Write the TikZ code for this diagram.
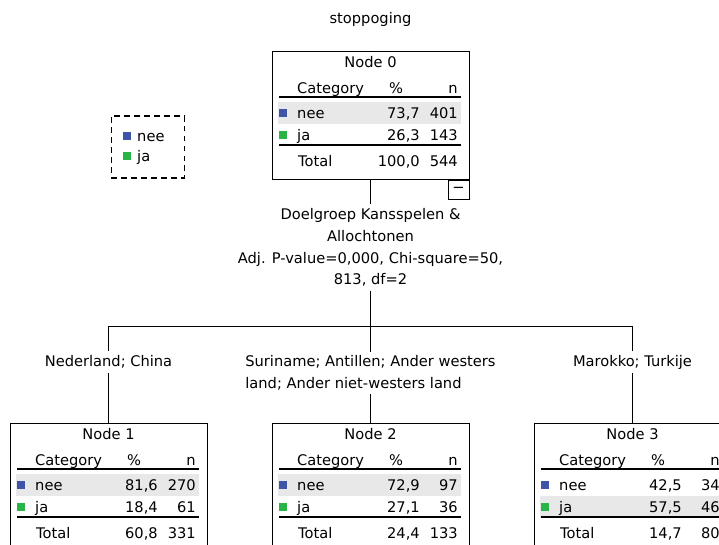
\documentclass[tikz,border=0pt]{standalone}
\usepackage{fontspec}
\setmainfont{DejaVu Sans}
\usepackage{xcolor}
\usetikzlibrary{positioning,calc}

\definecolor{neeblue}{RGB}{62,84,166}
\definecolor{jagreen}{RGB}{40,180,70}
\definecolor{rowgray}{RGB}{232,232,232}

% one table node of the tree, drawn in a shifted scope
% #1 name, #2 title, #3-#8 values, #9 y of shaded row
\newcommand{\treetable}[9]{%
  \fill[rowgray] (6,#9-11) rectangle (189,#9+11);
  \node[nodebox] (#1) at (98.5,0) {};
  \node[cell] (#1-title) at (98.5,11) {#2};
  \node[cell,anchor=west] (#1-cat) at (25,37) {Category};
  \node[cell] (#1-pct) at (124,37) {\%};
  \node[cell,anchor=east] (#1-n) at (186,37) {n};
  \draw[rule] (7,46) -- (189,46);
  \fill[neeblue] (7,58) rectangle (15,66);
  \node[cell,anchor=west] (#1-nee) at (25,62) {nee};
  \node[cell,anchor=east] (#1-neepct) at (148,62) {#3};
  \node[cell,anchor=east] (#1-neen) at (186,62) {#4};
  \fill[jagreen] (7,80) rectangle (15,88);
  \node[cell,anchor=west] (#1-ja) at (25,84) {ja};
  \node[cell,anchor=east] (#1-japct) at (148,84) {#5};
  \node[cell,anchor=east] (#1-jan) at (186,84) {#6};
  \draw[rule] (7,94) -- (189,94);
  \node[cell,anchor=west] (#1-tot) at (26,110) {Total};
  \node[cell,anchor=east] (#1-totpct) at (148,110) {#7};
  \node[cell,anchor=east] (#1-totn) at (186,110) {#8};
}

\begin{document}
\begin{tikzpicture}[x=0.03cm,y=-0.03cm,
  font=\fontsize{12.5}{18.5}\selectfont,
  cell/.style={inner sep=0pt,text height=10pt,text depth=1pt},
  nodebox/.style={draw,line width=0.8pt,anchor=north,minimum width=5.91cm,minimum height=3.84cm,inner sep=0pt},
  rule/.style={line width=1pt},
  branch/.style={line width=0.8pt}]
\useasboundingbox (0,0) rectangle (719,545);
\clip (0,0) rectangle (719,545);

% target and legend
\node (target) at (370.5,19) {stoppoging};
\node[draw,line width=1pt,dash pattern=on 5pt off 3.5pt,minimum width=2.19cm,minimum height=1.86cm] (legend) at (148,147) {};
\fill[neeblue] (123,132) rectangle (131,140);
\node[cell,anchor=west] (legnee) at (137,136) {nee};
\fill[jagreen] (123,152) rectangle (131,160);
\node[cell,anchor=west] (legja) at (137,156) {ja};

% root node
\begin{scope}[shift={(272,51)}]
  \treetable{node0}{Node 0}{73,7}{401}{26,3}{143}{100,0}{544}{62}
\end{scope}
\node[draw,line width=0.8pt,anchor=north east,minimum width=0.63cm,minimum height=0.57cm,inner sep=0pt] (collapse) at (node0.south east) {−};

% split on Doelgroep
\node[align=center] (cond) at (370.5,247.5) {Doelgroep Kansspelen \&\\Allochtonen\\Adj. P-value=0,000, Chi-square=50,\\813, df=2};
\coordinate (split) at (370.5,326);
\coordinate (bar1) at (108.5,326);
\coordinate (bar3) at (632.5,326);
\node (lab1) at (108.5,362) {Nederland; China};
\node[align=left] (lab2) at (370.5,373) {Suriname; Antillen; Ander westers\\land; Ander niet-westers land};
\node (lab3) at (632.5,362) {Marokko; Turkije};

% child nodes
\begin{scope}[shift={(10,423)}]
  \treetable{node1}{Node 1}{81,6}{270}{18,4}{61}{60,8}{331}{62}
\end{scope}
\begin{scope}[shift={(272,423)}]
  \treetable{node2}{Node 2}{72,9}{97}{27,1}{36}{24,4}{133}{62}
\end{scope}
\begin{scope}[shift={(534,423)}]
  \treetable{node3}{Node 3}{42,5}{34}{57,5}{46}{14,7}{80}{84}
\end{scope}

% branches
\draw[branch] (node0) -- (cond);
\draw[branch] (cond) -- (split);
\draw[branch] (bar1) -- (bar3);
\draw[branch] (bar1) -- (lab1);
\draw[branch] (lab1) -- (node1);
\draw[branch] (split) -- (lab2);
\draw[branch] (lab2) -- (node2);
\draw[branch] (bar3) -- (lab3);
\draw[branch] (lab3) -- (node3);
\end{tikzpicture}
\end{document}
